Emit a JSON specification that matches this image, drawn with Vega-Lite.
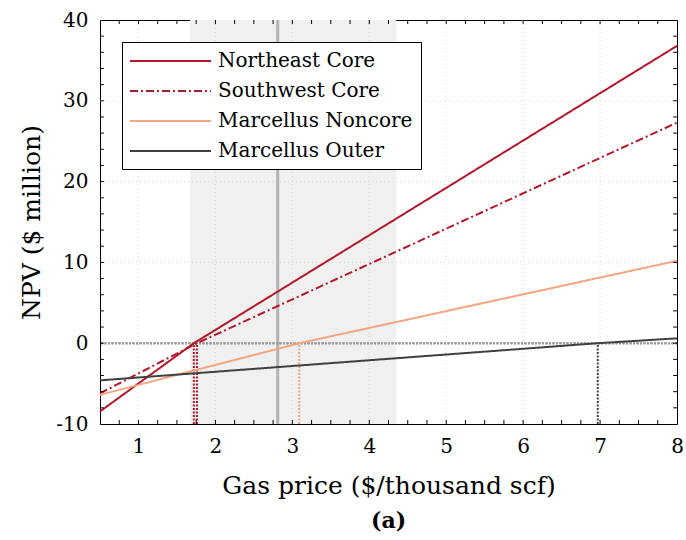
{
  "$schema": "https://vega.github.io/schema/vega-lite/v6.json",
  "width": 577,
  "height": 404,
  "autosize": {"type": "none"},
  "padding": {"left": 100, "top": 20, "right": 9, "bottom": 116},
  "config": {
    "view": {"stroke": "black", "strokeWidth": 1},
    "font": "DejaVu Serif",
    "axis": {"domain": false, "ticks": false, "grid": false, "labelColor": "black", "titleColor": "black", "labelFont": "DejaVu Serif", "titleFont": "DejaVu Serif", "titleFontWeight": "normal"}
  },
  "title": {"text": "(a)", "orient": "bottom", "font": "DejaVu Serif", "fontSize": 22, "fontWeight": "bold", "color": "black", "offset": 13},
  "datasets": {
    "lines": [
      {"series": "Northeast Core", "x": 0.5, "y": -8.45},
      {"series": "Northeast Core", "x": 1.72, "y": 0},
      {"series": "Northeast Core", "x": 8, "y": 36.8},
      {"series": "Southwest Core", "x": 0.5, "y": -6.2},
      {"series": "Southwest Core", "x": 1.76, "y": 0},
      {"series": "Southwest Core", "x": 8, "y": 27.3},
      {"series": "Marcellus Noncore", "x": 0.5, "y": -6.4},
      {"series": "Marcellus Noncore", "x": 3.09, "y": 0},
      {"series": "Marcellus Noncore", "x": 8, "y": 10.2},
      {"series": "Marcellus Outer", "x": 0.5, "y": -4.6},
      {"series": "Marcellus Outer", "x": 6.97, "y": 0},
      {"series": "Marcellus Outer", "x": 8, "y": 0.6}
    ],
    "breakeven": [
      {"series": "Northeast Core", "x": 1.72},
      {"series": "Southwest Core", "x": 1.76},
      {"series": "Marcellus Noncore", "x": 3.09},
      {"series": "Marcellus Outer", "x": 6.97}
    ],
    "band": [{"x": 1.67, "x2": 4.35}],
    "price": [{"x": 2.81}],
    "gridx": [{"x": 1}, {"x": 2}, {"x": 3}, {"x": 4}, {"x": 5}, {"x": 6}, {"x": 7}],
    "gridy": [{"y": 10}, {"y": 20}, {"y": 30}],
    "xticks": [{"x":0.75},{"x":1},{"x":1.25},{"x":1.5},{"x":1.75},{"x":2},{"x":2.25},{"x":2.5},{"x":2.75},{"x":3},{"x":3.25},{"x":3.5},{"x":3.75},{"x":4},{"x":4.25},{"x":4.5},{"x":4.75},{"x":5},{"x":5.25},{"x":5.5},{"x":5.75},{"x":6},{"x":6.25},{"x":6.5},{"x":6.75},{"x":7},{"x":7.25},{"x":7.5},{"x":7.75}],
    "yticks": [{"y":-8},{"y":-6},{"y":-4},{"y":-2},{"y":0},{"y":2},{"y":4},{"y":6},{"y":8},{"y":10},{"y":12},{"y":14},{"y":16},{"y":18},{"y":20},{"y":22},{"y":24},{"y":26},{"y":28},{"y":30},{"y":32},{"y":34},{"y":36},{"y":38}]
  },
  "layer": [
    {
      "data": {"name": "lines"},
      "mark": {"type": "line", "strokeWidth": 2, "opacity": 0},
      "encoding": {
        "x": {
          "field": "x", "type": "quantitative",
          "scale": {"domain": [0.5, 8], "nice": false, "zero": false},
          "axis": {
            "orient": "bottom", "title": "Gas price ($/thousand scf)",
            "values": [1, 2, 3, 4, 5, 6, 7, 8],
            "labelExpr": "'' + datum.value",
            "labelPadding": 12, "labelFontSize": 20, "labelFlush": false, "labelOverlap": false,
            "titleFontSize": 25, "titlePadding": 17
          }
        },
        "y": {
          "field": "y", "type": "quantitative",
          "scale": {"domain": [-10, 40], "nice": false, "zero": false},
          "axis": {
            "orient": "left", "title": "NPV ($ million)",
            "values": [-10, 0, 10, 20, 30, 40],
            "labelExpr": "'' + datum.value",
            "labelPadding": 12, "labelFontSize": 20, "labelFlush": false, "labelOverlap": false,
            "titleFontSize": 25, "titlePadding": 11
          }
        }
      }
    },
    {
      "data": {"name": "band"},
      "mark": {"type": "rect", "color": "#f0f0f0"},
      "encoding": {
        "x": {"field": "x", "type": "quantitative"},
        "x2": {"field": "x2"}
      }
    },
    {
      "data": {"name": "gridx"},
      "mark": {"type": "rule", "color": "#d4d4d4", "strokeWidth": 1, "strokeDash": [1, 3]},
      "encoding": {"x": {"field": "x", "type": "quantitative"}}
    },
    {
      "data": {"name": "gridy"},
      "mark": {"type": "rule", "color": "#d4d4d4", "strokeWidth": 1, "strokeDash": [1, 3]},
      "encoding": {"y": {"field": "y", "type": "quantitative"}}
    },
    {
      "data": {"name": "price"},
      "mark": {"type": "rule", "color": "#b3b3b3", "strokeWidth": 3},
      "encoding": {"x": {"field": "x", "type": "quantitative"}}
    },
    {
      "data": {"name": "gridy"},
      "mark": {"type": "rule", "color": "#9c9c9c", "strokeWidth": 2, "strokeDash": [2, 1.5]},
      "encoding": {"y": {"datum": 0, "type": "quantitative"}}
    },
    {
      "data": {"name": "breakeven"},
      "mark": {"type": "rule", "strokeWidth": 2, "strokeDash": [2, 1.5]},
      "encoding": {
        "x": {"field": "x", "type": "quantitative"},
        "y": {"datum": -10, "type": "quantitative"},
        "y2": {"datum": 0},
        "color": {"field": "series", "type": "nominal"}
      }
    },
    {
      "data": {"name": "lines"},
      "mark": {"type": "line", "strokeWidth": 2},
      "encoding": {
        "x": {"field": "x", "type": "quantitative"},
        "y": {"field": "y", "type": "quantitative"},
        "color": {
          "field": "series", "type": "nominal",
          "scale": {
            "domain": ["Northeast Core", "Southwest Core", "Marcellus Noncore", "Marcellus Outer"],
            "range": ["#b2182b", "#b2182b", "#f4a582", "#404040"]
          },
          "legend": {
            "title": null, "orient": "none", "legendX": 22, "legendY": 22,
            "symbolType": "M-4.05,0H4.05", "symbolSize": 400, "symbolStrokeWidth": 2,
            "symbolOffset": 29.5, "labelOffset": 36.5, "labelLimit": 0,
            "labelFont": "DejaVu Serif", "labelFontSize": 20, "labelColor": "black",
            "fillColor": "white", "strokeColor": "black", "padding": 8, "rowPadding": 9, "cornerRadius": 0
          }
        },
        "strokeDash": {
          "field": "series", "type": "nominal",
          "scale": {
            "domain": ["Northeast Core", "Southwest Core", "Marcellus Noncore", "Marcellus Outer"],
            "range": [[1, 0], [8, 3, 2, 3], [1, 0], [1, 0]]
          },
          "legend": null
        }
      }
    },
    {
      "data": {"name": "xticks"},
      "mark": {"type": "rule", "color": "black", "strokeWidth": 1},
      "encoding": {
        "x": {"field": "x", "type": "quantitative"},
        "y": {"datum": -10, "type": "quantitative"},
        "y2": {"datum": -9.5}
      }
    },
    {
      "data": {"name": "xticks"},
      "mark": {"type": "rule", "color": "black", "strokeWidth": 1},
      "encoding": {
        "x": {"field": "x", "type": "quantitative"},
        "y": {"datum": 40, "type": "quantitative"},
        "y2": {"datum": 39.5}
      }
    },
    {
      "data": {"name": "yticks"},
      "mark": {"type": "rule", "color": "black", "strokeWidth": 1},
      "encoding": {
        "y": {"field": "y", "type": "quantitative"},
        "x": {"datum": 0.5, "type": "quantitative"},
        "x2": {"datum": 0.55}
      }
    },
    {
      "data": {"name": "yticks"},
      "mark": {"type": "rule", "color": "black", "strokeWidth": 1},
      "encoding": {
        "y": {"field": "y", "type": "quantitative"},
        "x": {"datum": 8, "type": "quantitative"},
        "x2": {"datum": 7.95}
      }
    }
  ]
}
